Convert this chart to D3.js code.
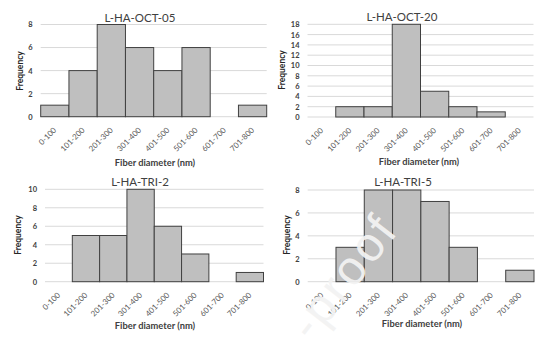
<!DOCTYPE html>
<html><head><meta charset="utf-8">
<script src="https://cdn.jsdelivr.net/npm/d3@7"></script>
<style>
html,body{margin:0;padding:0;background:#fff;}
svg{display:block;font-family:Lato,"Open Sans",sans-serif;}
</style></head>
<body><svg id="c" width="553" height="339"></svg>
<script>
const categories = ["0-100","101-200","201-300","301-400","401-500","501-600","601-700","701-800"];
const octO5 = [1,4,8,6,4,6,0,1];
const oct20 = [0,2,2,18,5,2,1,0];
const tri2  = [0,5,5,10,6,3,0,1];
const tri5  = [0,3,8,8,7,3,0,1];
const titles = ["L-HA-OCT-05","L-HA-OCT-20","L-HA-TRI-2","L-HA-TRI-5"];
const yMaxes = [8,18,10,8];
const xTitle = "Fiber diameter (nm)";
const yTitle = "Frequency";
const watermark = "-proof";

const panels = [
  {data:octO5, title:titles[0], ymax:yMaxes[0], left:40.7, right:266.7, top:24.5, zero:116.7, tx:140, ty:22, fx:20, fy:71, ax:155, ay:166},
  {data:oct20, title:titles[1], ymax:yMaxes[1], left:307.5, right:533.5, top:24.3, zero:117, tx:402, ty:21, fx:282, fy:70, ax:419, ay:165},
  {data:tri2,  title:titles[2], ymax:yMaxes[2], left:45, right:263.5, top:189.3, zero:281.7, tx:140, ty:186, fx:18, fy:235, ax:155, ay:329},
  {data:tri5,  title:titles[3], ymax:yMaxes[3], left:307.7, right:534, top:190, zero:281.7, tx:403, ty:186, fx:287, fy:235, ax:422, ay:327}
];

const svg = d3.select("#c");

panels.forEach(p => {
  const g = svg.append("g");
  const x = d3.scaleBand().domain(categories).range([p.left, p.right]).padding(0);
  const y = d3.scaleLinear().domain([0, p.ymax]).range([p.zero, p.top]);
  const ticks = d3.range(0, p.ymax + 0.001, 2);

  g.append("g").selectAll("line").data(ticks).join("line")
    .attr("x1", p.left).attr("x2", p.right)
    .attr("y1", d => y(d)).attr("y2", d => y(d))
    .attr("stroke", "#d9d9d9").attr("stroke-width", 1);

  const yAxis = d3.axisLeft(y).tickValues(ticks).tickSize(0).tickPadding(8);
  const ya = g.append("g").attr("transform", `translate(${p.left},0)`).call(yAxis);
  ya.select(".domain").remove();
  ya.selectAll("text").attr("font-size", 7.5).attr("fill", "#404040").attr("font-weight", "bold")
    .attr("font-family", "Lato, sans-serif");

  g.append("g").selectAll("rect").data(p.data.map((v,i)=>({c:categories[i],v}))).join("rect")
    .filter(d => d.v > 0)
    .attr("x", d => x(d.c)).attr("width", x.bandwidth())
    .attr("y", d => y(d.v)).attr("height", d => y(0) - y(d.v))
    .attr("fill", "#bfbfbf").attr("stroke", "#404040").attr("stroke-width", 1);

  const xAxis = d3.axisBottom(x).tickSize(0).tickPadding(0);
  const xa = g.append("g").attr("transform", `translate(0,${p.zero})`).call(xAxis);
  xa.select(".domain").remove();
  xa.selectAll("text")
    .attr("font-size", 7.8).attr("fill", "#595959").attr("font-family", "Lato, sans-serif")
    .attr("text-anchor", "end")
    .attr("dy", null).attr("y", 0)
    .attr("transform", "translate(2,14) rotate(-45)");

  g.append("text").attr("x", p.tx).attr("y", p.ty).attr("text-anchor", "middle")
    .attr("font-size", 11.5).attr("fill", "#404040").text(p.title);

  g.append("text").attr("transform", `translate(${p.fx},${p.fy}) rotate(-90)`)
    .attr("text-anchor", "middle").attr("dy", "0.35em")
    .attr("font-size", 8.5).attr("font-weight", "bold").attr("fill", "#262626").text(yTitle);

  g.append("text").attr("x", p.ax).attr("y", p.ay).attr("text-anchor", "middle")
    .attr("font-size", 9.3).attr("font-weight", "bold").attr("fill", "#404040").text(xTitle);
});

svg.append("text")
  .attr("transform", "translate(312,343) rotate(-52)")
  .attr("text-anchor", "start")
  .attr("font-size", 48).attr("letter-spacing", 3).attr("font-family", "Liberation Sans, sans-serif")
  .attr("fill", "#f3f3f3").attr("fill-opacity", 0.95)
  .text(watermark);
</script></body></html>
